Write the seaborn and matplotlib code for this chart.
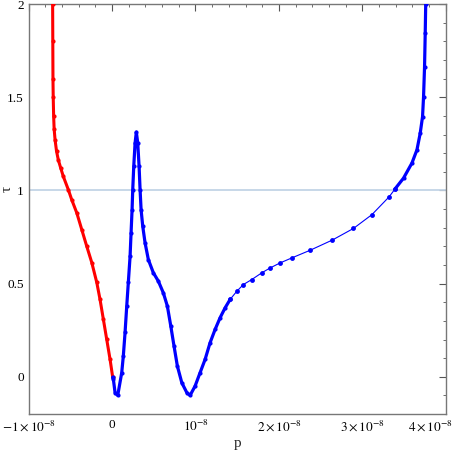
import numpy as np
import pandas as pd
import matplotlib
matplotlib.use("Agg")
import matplotlib.pyplot as plt
import matplotlib.transforms as mtransforms
from matplotlib.ticker import MultipleLocator
import seaborn as sns

sns.set_style("white")
plt.rcParams['font.family'] = ['Liberation Serif', 'DejaVu Serif']
plt.rcParams['mathtext.fontset'] = 'stix'

# p in units of 1e-8
red_p = [-0.712, -0.710, -0.708, -0.705, -0.700, -0.694, -0.683, -0.665, -0.644,
         -0.615, -0.584, -0.524, -0.483, -0.423, -0.363, -0.303, -0.243, -0.183,
         -0.144, -0.104, -0.064, -0.024, 0.008]
red_tau = [2.0, 1.8, 1.6, 1.5, 1.4, 1.33, 1.272, 1.21, 1.164, 1.12, 1.075, 1.004,
           0.95, 0.88, 0.79, 0.70, 0.613, 0.506, 0.415, 0.308, 0.201, 0.094, -0.003]

blue_p = [0.008, 0.016, 0.036, 0.068, 0.116, 0.135, 0.156, 0.176, 0.195, 0.216,
          0.228, 0.240, 0.248, 0.260, 0.276, 0.291, 0.308, 0.324, 0.336, 0.348,
          0.368, 0.396, 0.435, 0.495, 0.555, 0.615, 0.663, 0.704, 0.743, 0.783,
          0.836, 0.896, 0.935, 0.995, 1.055, 1.115, 1.175, 1.235, 1.295, 1.355,
          1.415, 1.495, 1.574, 1.675, 1.795, 1.894, 2.014, 2.155, 2.374, 2.641,
          2.893, 3.114, 3.321, 3.393, 3.493, 3.594, 3.654, 3.693, 3.721, 3.733,
          3.745, 3.753, 3.759]
blue_tau = [-0.003, -0.014, -0.085, -0.100, 0.022, 0.111, 0.238, 0.379, 0.506, 0.646,
            0.773, 0.897, 1.004, 1.129, 1.254, 1.313, 1.254, 1.129, 1.004, 0.897,
            0.807, 0.718, 0.629, 0.558, 0.513, 0.450, 0.379, 0.272, 0.164, 0.057,
            -0.032, -0.085, -0.100, -0.050, 0.022, 0.093, 0.183, 0.254, 0.317, 0.370,
            0.415, 0.459, 0.495, 0.522, 0.558, 0.584, 0.611, 0.638, 0.679, 0.734,
            0.796, 0.870, 0.966, 1.009, 1.066, 1.147, 1.218, 1.307, 1.396, 1.503,
            1.664, 1.843, 2.0]

xticks = [-1, 0, 1, 2, 3, 4]
xtick_labels = [r"$-1\times10^{-8}$", "0", r"$10^{-8}$", r"$2\times10^{-8}$",
                r"$3\times10^{-8}$", r"$4\times10^{-8}$"]
yticks = [0, 0.5, 1, 1.5, 2]
ytick_labels = ["0", "0.5", "1", "1.5", "2"]

red = pd.DataFrame({"p": np.array(red_p) * 1e-8, "tau": red_tau})
blue = pd.DataFrame({"p": np.array(blue_p) * 1e-8, "tau": blue_tau})

fig = plt.figure(figsize=(4.54, 4.54), dpi=100)
ax = fig.add_axes([0.063, 0.088, 0.919, 0.903])

ax.axhline(1, color="#c3d4e6", lw=1.3, zorder=1)

# split blue into thick (dense sampling) and thin (sparse tail) parts
tail = (blue["p"] >= 1.41e-8) & (blue["p"] <= 3.40e-8)
i0 = tail.idxmax()
i1 = tail[::-1].idxmax()
blue_a = blue.loc[:i0]
blue_b = blue.loc[i0:i1]
blue_c = blue.loc[i1:]

sns.lineplot(data=red, x="p", y="tau", sort=False, estimator=None, color="#ff0000",
             lw=2.2, marker="o", markersize=3, markeredgewidth=0, ax=ax, zorder=3)
for part in [blue_a, blue_c]:
    sns.lineplot(data=part, x="p", y="tau", sort=False, estimator=None, color="#0000ff",
                 lw=2.3, marker="o", markersize=3, markeredgewidth=0, ax=ax, zorder=3)
sns.lineplot(data=blue_b, x="p", y="tau", sort=False, estimator=None, color="#0000ff",
             lw=0.8, marker="o", markersize=3.5, markeredgewidth=0, ax=ax, zorder=3)

ax.set_xlim(-1e-8, 4e-8)
ax.set_ylim(-0.2, 2.0)
ax.set_xticks([t * 1e-8 for t in xticks])
ax.set_xticklabels(xtick_labels)
ax.set_yticks(yticks)
ax.set_yticklabels(ytick_labels)
ax.xaxis.set_minor_locator(MultipleLocator(0.2e-8))
ax.yaxis.set_minor_locator(MultipleLocator(0.1))
ax.tick_params(which="both", direction="in", top=True, right=True, colors="#555555",
               labelcolor="black", labelsize=9.5)
ax.tick_params(which="major", length=5, width=0.8)
ax.tick_params(which="minor", length=2.5, width=0.6)
for s in ax.spines.values():
    s.set_color("#777777")
    s.set_linewidth(1.0)

# keep the last tick label inside the figure, like the original
last = ax.get_xticklabels()[-1]
last.set_ha("right")
last.set_transform(last.get_transform() + mtransforms.ScaledTranslation(7 / 100, 0, fig.dpi_scale_trans))

ax.set_xlabel("p", fontsize=11, labelpad=2)
ax.set_ylabel("τ", fontsize=11)
ax.yaxis.set_label_coords(-0.035, 0.55)

fig.savefig("out.png", dpi=100)
